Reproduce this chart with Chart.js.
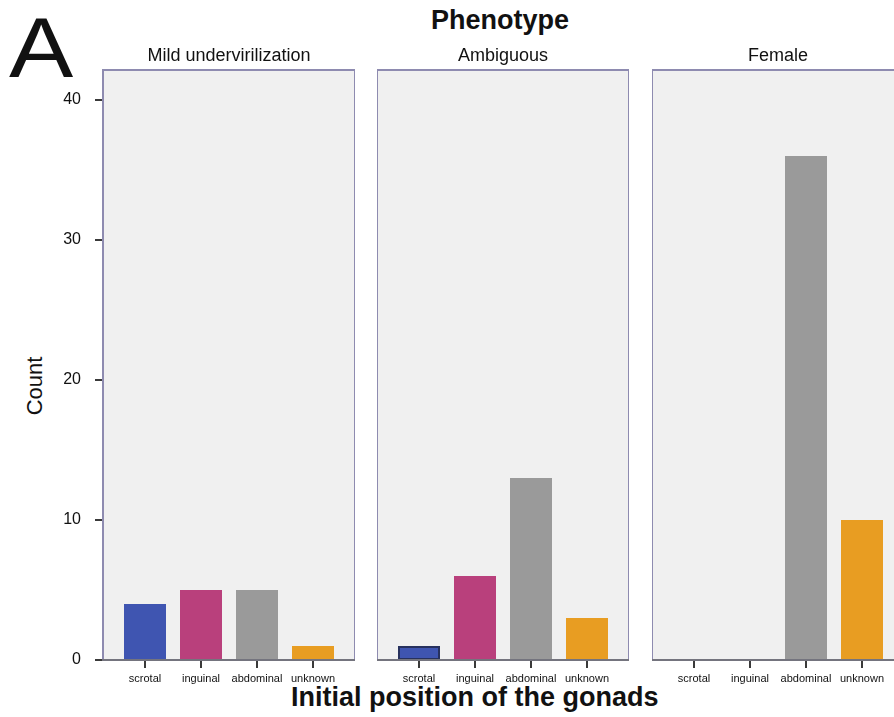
<!DOCTYPE html>
<html>
<head>
<meta charset="utf-8">
<script src="https://cdn.jsdelivr.net/npm/chart.js@4.4.1/dist/chart.umd.min.js"></script>
<style>
	body { margin: 0; width: 894px; height: 717px; overflow: hidden; background: #fff; position: relative; font-family: "Liberation Sans", Arial, sans-serif; color: #111; }
	.txt { position: absolute; white-space: nowrap; line-height: 1; }
	canvas { position: absolute; }
</style>
</head>
<body>
<div class="txt" style="left:9px; top:4px; font-size:86px; transform:scaleX(1.12); transform-origin:left top;">A</div>
<div class="txt" style="left:0; width:1000px; text-align:center; top:7px; font-size:27px; font-weight:bold;">Phenotype</div>
<div class="txt" style="left:35px; top:386px; font-size:22px; transform:translate(-50%, -50%) rotate(-90deg);">Count</div>
<div class="txt" style="left:291px; top:684px; font-size:27px; font-weight:bold;">Initial position of the gonads</div>
<canvas id="panel-0" width="355" height="630" style="left:0; top:60px;"></canvas>
<canvas id="panel-1" width="252" height="630" style="left:377px; top:60px;"></canvas>
<canvas id="panel-2" width="252" height="630" style="left:652px; top:60px;"></canvas>

<script>
const positions = ["scrotal", "inguinal", "abdominal", "unknown"];
const phenotypes = ["Mild undervirilization", "Ambiguous", "Female"];
const mildCounts = [4, 5, 5, 1];
const ambiguousCounts = [1, 6, 13, 3];
const femaleCounts = [0, 0, 36, 10];
const countTicks = [0, 10, 20, 30, 40];

const barColors = ["#3f55b1", "#b9407c", "#9a9a9a", "#e89d22"];
const panelLefts = [103, 377, 652];
const FONT = "'Liberation Sans', Arial, sans-serif";

// background + frame of every panel
const panelFrame = {
	id: "panelFrame",
	beforeDraw(chart) {
		const {ctx, chartArea: a} = chart;
		ctx.save();
		ctx.fillStyle = "#f0f0f0";
		ctx.fillRect(a.left, a.top, a.right - a.left, a.bottom - a.top);
		ctx.restore();
	},
	afterDraw(chart) {
		const {ctx, chartArea: a} = chart;
		ctx.save();
		ctx.lineWidth = 2;
		ctx.strokeStyle = "#8e8bb0";
		ctx.beginPath();
		ctx.moveTo(a.left, a.bottom);
		ctx.lineTo(a.left, a.top);
		ctx.lineTo(a.right, a.top);
		ctx.lineTo(a.right, a.bottom);
		ctx.stroke();
		ctx.strokeStyle = "#74747e";
		ctx.beginPath();
		ctx.moveTo(a.left - 1, a.bottom);
		ctx.lineTo(a.right + 1, a.bottom);
		ctx.stroke();
		ctx.restore();
	}
};

function createPanel(index, counts) {
	const withAxis = index === 0;
	return new Chart("panel-" + index, {
		type: "bar",
		data: {
			datasets: [{
				data: counts.map((c, i) => ({x: i, y: c})),
				backgroundColor: barColors,
				borderColor: "#27315e",
				borderWidth: counts.map((c, i) => (index === 1 && i === 0) ? 2 : 0),
				borderSkipped: false,
				categoryPercentage: 1,
				barPercentage: 0.75
			}]
		},
		options: {
			responsive: false,
			animation: false,
			layout: {padding: {top: 10, left: 0, right: 0, bottom: 0}},
			plugins: {legend: {display: false}, tooltip: {enabled: false}},
			scales: {
				x: {
					type: "linear",
					min: -0.75,
					max: 3.75,
					offset: false,
					afterBuildTicks: s => { s.ticks = positions.map((p, i) => ({value: i})); },
					afterFit: s => { s.height = 30; s.paddingLeft = 0; s.paddingRight = 0; },
					border: {display: false},
					grid: {offset: false, drawOnChartArea: false, drawTicks: true, tickLength: 8, color: "#3a3a3a", lineWidth: 2},
					ticks: {
						autoSkip: false,
						maxRotation: 0,
						padding: 4,
						color: "#111",
						font: {family: FONT, size: 11},
						callback: v => positions[v]
					}
				},
				y: {
					display: withAxis,
					min: 0,
					max: 590 / 14,
					afterBuildTicks: s => { s.ticks = countTicks.map(v => ({value: v})); },
					afterFit: s => {
						if (withAxis) s.width = 103;
						s.paddingTop = 0;
						s.paddingBottom = 0;
					},
					border: {display: false},
					grid: {drawOnChartArea: false, drawTicks: true, tickLength: 8, color: "#3a3a3a", lineWidth: 2},
					ticks: {
						padding: 14,
						color: "#111",
						font: {family: FONT, size: 16}
					}
				}
			}
		},
		plugins: [panelFrame]
	});
}

function addPanelTitles() {
	for (let i = 0; i < phenotypes.length; i++) {
		const t = document.createElement("div");
		t.className = "txt";
		t.textContent = phenotypes[i];
		t.style.left = panelLefts[i] + "px";
		t.style.width = "252px";
		t.style.textAlign = "center";
		t.style.top = "46px";
		t.style.fontSize = "18px";
		document.body.appendChild(t);
	}
}

createPanel(0, mildCounts);
createPanel(1, ambiguousCounts);
createPanel(2, femaleCounts);
addPanelTitles();
</script>
</body>
</html>
